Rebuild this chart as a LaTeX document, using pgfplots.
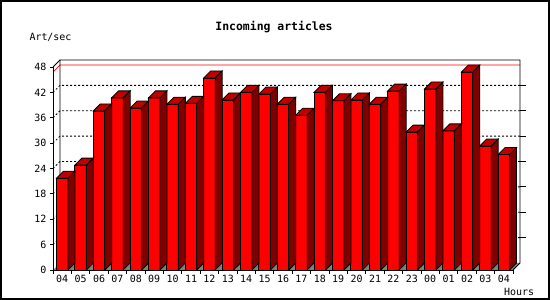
\documentclass[border=0pt]{standalone}
\usepackage{pgfplots}
\usepackage{pgfplotstable}
\pgfplotsset{compat=1.18}
\usepackage{fontspec}
\setmainfont{DejaVu Sans Mono}
\definecolor{barfront}{HTML}{FF0000}
\definecolor{barside}{HTML}{800000}
\definecolor{bartop}{HTML}{C00000}
\definecolor{floorgray}{HTML}{808080}
\pgfdeclareplotmark{emptymark}{}
\pgfplotstableread{
x v
0 21.7
1 24.8
2 37.6
3 40.7
4 38.3
5 40.7
6 39.2
7 39.4
8 45.4
9 40.2
10 42.0
11 41.6
12 39.2
13 36.6
14 42.0
15 40.0
16 40.2
17 39.2
18 42.3
19 32.6
20 42.8
21 32.9
22 46.8
23 29.3
24 27.3
}\datatable
\begin{document}
\begin{tikzpicture}
\fill[white] (0,0) rectangle (550bp,300bp);
\begin{axis}[
  at={(53bp,30bp)}, anchor=south west,
  scale only axis, width=460bp, height=203bp,
  xmin=-0.5, xmax=24.5, ymin=0, ymax=48,
  clip=false,
  axis on top,
  axis x line*=bottom, axis y line*=left,
  axis line style={black, line width=0.8bp, -},
  xtick={0,...,24},
  xticklabels={04,05,06,07,08,09,10,11,12,13,14,15,16,17,18,19,20,21,22,23,00,01,02,03,04},
  minor xtick={-0.5,0.5,...,24.5},
  ytick={0,6,...,48},
  tick align=outside,
  major tick length=3bp, minor tick length=4bp,
  every major x tick/.append style={draw=none},
  tick style={black, line width=0.8bp},
  ticklabel style={font=\fontsize{10}{12}\selectfont},
  /pgf/number format/assume math mode=true,
  xticklabel style={yshift=1bp},
]
% floor
\fill[floorgray] (axis cs:-0.5,0) -- (axis cs:24.5,0) -- ([shift={(7bp,7bp)}]axis cs:24.5,0) -- ([shift={(7bp,7bp)}]axis cs:-0.5,0) -- cycle;
% grid lines on left and back walls
\pgfplotsinvokeforeach{6,12,18,24,30,36,42}{
  \draw[black, line width=0.8bp, dash pattern=on 2bp off 2bp] (axis cs:-0.5,#1) -- ([shift={(7bp,7bp)}]axis cs:-0.5,#1) -- ([shift={(7bp,7bp)}]axis cs:24.5,#1);
  \draw[black, line width=0.8bp] ([shift={(7bp,7bp)}]axis cs:24.5,#1) -- ++(-3bp,0);
}
% max line
\draw[red, line width=0.8bp] (axis cs:-0.5,46.8) -- ([shift={(7bp,7bp)}]axis cs:-0.5,46.8) -- ([shift={(7bp,7bp)}]axis cs:24.5,46.8);
% back wall
\draw[black, line width=0.8bp] ([shift={(7bp,7bp)}]axis cs:-0.5,0) -- ([shift={(7bp,7bp)}]axis cs:-0.5,48) -- ([shift={(7bp,7bp)}]axis cs:24.5,48) -- ([shift={(7bp,7bp)}]axis cs:24.5,0) -- (axis cs:24.5,0);
\draw[black, line width=0.8bp] (axis cs:-0.5,48) -- ([shift={(7bp,7bp)}]axis cs:-0.5,48);
% front faces
\addplot[ybar, bar width=11.5bp, fill=barfront, draw=black, line width=0.8bp] table[x=x, y=v] {\datatable};
% top and side faces
\addplot[only marks, mark=emptymark, scatter,
  visualization depends on={\thisrow{v} \as \ry},
  scatter/@pre marker code/.code={%
    \pgfmathsetmacro\hb{-\ry*4.229}%
    \pgfmathsetmacro\hs{7-\ry*4.229}%
    \filldraw[fill=bartop, draw=black, line width=0.8bp] (-5.75bp,0bp) -- (5.75bp,0bp) -- (12.75bp,7bp) -- (1.25bp,7bp) -- cycle;
    \filldraw[fill=barside, draw=black, line width=0.8bp] (5.75bp,0bp) -- (12.75bp,7bp) -- (12.75bp,\hs bp) -- (5.75bp,\hb bp) -- cycle;
  },
  scatter/@post marker code/.code={}
] table[x=x, y=v] {\datatable};
\end{axis}
\node[font=\fontsize{11.5}{13}\selectfont\bfseries] at (274bp,273bp) {Incoming articles};
\node[font=\fontsize{10}{12}\selectfont] at (50.5bp,263bp) {Art/sec};
\node[font=\fontsize{10}{12}\selectfont] at (519bp,8bp) {Hours};
\draw[black, line width=2bp] (1bp,1bp) rectangle (549bp,299bp);
\pgfresetboundingbox
\path (0,0) rectangle (550bp,300bp);
\end{tikzpicture}
\end{document}
